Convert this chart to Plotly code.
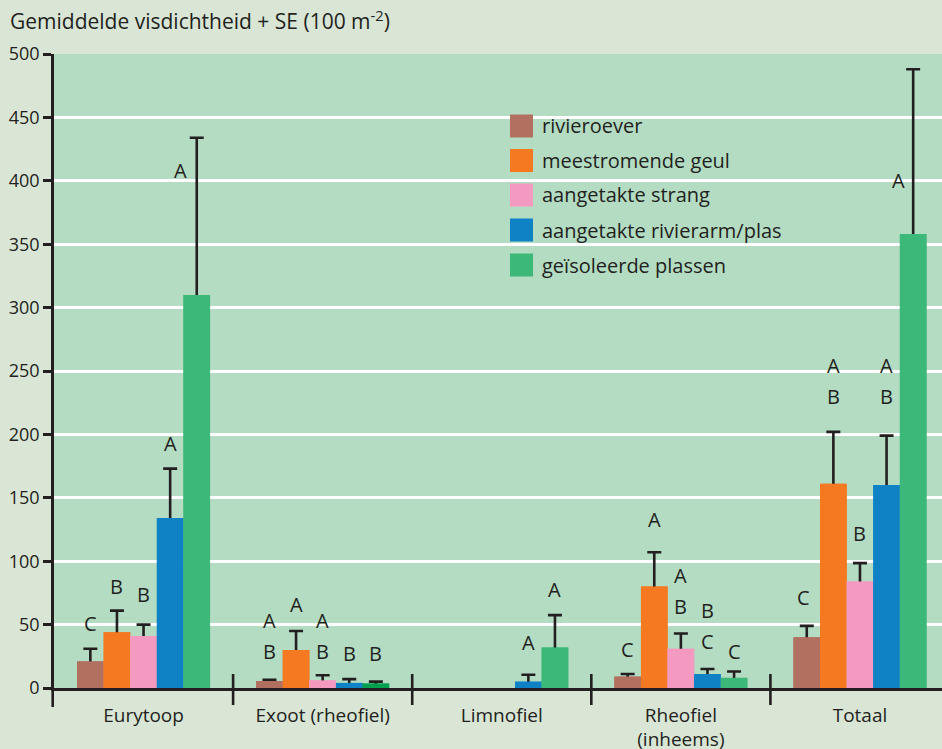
import plotly.graph_objects as go

# ---------------- data ----------------
categories = ["Eurytoop", "Exoot (rheofiel)", "Limnofiel", "Rheofiel<br>(inheems)", "Totaal"]
series_names = ["rivieroever", "meestromende geul", "aangetakte strang",
                "aangetakte rivierarm/plas", "geïsoleerde plassen"]

rivieroever_mean = [21, 5.5, None, 9, 40]
rivieroever_se = [10, 1, None, 2, 9]
meestromende_mean = [44, 30, None, 80, 161]
meestromende_se = [17, 15, None, 27, 41]
strang_mean = [41, 6, None, 31, 84]
strang_se = [9, 4, None, 12, 14.5]
rivierarm_mean = [134, 4, 5, 11, 160]
rivierarm_se = [39, 3, 5.5, 4, 39]
plassen_mean = [310, 3.5, 32, 8, 358]
plassen_se = [124, 1.5, 25.5, 5, 130]

# significance letters (top letter first)
rivieroever_letters = ["C", "AB", "", "C", "C"]
meestromende_letters = ["B", "A", "", "A", "AB"]
strang_letters = ["B", "AB", "", "AB", "B"]
rivierarm_letters = ["A", "B", "A", "BC", "AB"]
plassen_letters = ["A", "B", "A", "C", "A"]

means = [rivieroever_mean, meestromende_mean, strang_mean, rivierarm_mean, plassen_mean]
ses = [rivieroever_se, meestromende_se, strang_se, rivierarm_se, plassen_se]
letters = [rivieroever_letters, meestromende_letters, strang_letters,
           rivierarm_letters, plassen_letters]

# ---------------- styling / placement ----------------
INK = "#231f20"
colors = ["#b27060", "#f47920", "#f49ac1", "#0f82c6", "#3cb878"]
exoot_green = "#00a04e"
FONT = "Open Sans"

# y-value (centre of the lowest letter) for each letter group, per series / category
letter_y = [
    [50.5, 29, None, 30, 71],
    [80, 66, None, 133, 230],
    [74, 29, None, 64, 122],
    [193, 27, 35.5, 37, 230],
    [408.5, 27, 78, 28.4, 400.6],
]
letter_xshift = [
    [0, 0, 0, 0, -3],
    [0, 0, 0, 0, 0],
    [0, 0, 0, 0, 0],
    [0, 0, 0, 0, 0],
    [-16, 0, 0, 0, -15],
]

BARGAP = 0.2574
W = (1 - BARGAP) / 5

fig = go.Figure()
for s in range(5):
    col = [colors[s]] * 5
    if s == 4:
        col[1] = exoot_green
    minus = [1.6 if v is not None else None for v in means[s]]
    # bar carrying the (upper) error bar
    fig.add_trace(go.Bar(
        x=categories, y=means[s], name=series_names[s], offsetgroup=str(s),
        marker=dict(color=col, line=dict(width=0)),
        error_y=dict(type="data", symmetric=False, array=ses[s], arrayminus=minus,
                     color=INK, thickness=2.6, width=7),
        showlegend=False, hoverinfo="skip"))
    # identical bar on top hides the lower cap
    fig.add_trace(go.Bar(
        x=categories, y=means[s], name=series_names[s], offsetgroup=str(s),
        marker=dict(color=col, line=dict(width=0)),
        showlegend=False))

annotations = []
for s in range(5):
    for c in range(5):
        txt = letters[s][c]
        if not txt:
            continue
        for k, ch in enumerate(reversed(txt)):
            annotations.append(dict(
                x=c + (s - 2) * W, y=letter_y[s][c], xref="x", yref="y",
                text=ch, showarrow=False, yanchor="middle", xanchor="center",
                xshift=letter_xshift[s][c], yshift=31 * k,
                font=dict(family=FONT, size=20, color=INK)))

# pixel -> paper helpers (plot area 54..942 x 54..688)
def px(xp):
    return (xp - 54) / 888.0

def py(yp):
    return (688 - yp) / 634.0

shapes = []
# legend
row_y = [126, 160.5, 195, 230, 265]
for s in range(5):
    shapes.append(dict(type="rect", xref="paper", yref="paper",
                       x0=px(510), x1=px(533), y0=py(row_y[s] + 11.5), y1=py(row_y[s] - 11.5),
                       fillcolor=colors[s], line=dict(width=0)))
    annotations.append(dict(x=px(540), y=py(row_y[s]), xref="paper", yref="paper",
                            text=series_names[s], showarrow=False, xanchor="left",
                            yanchor="middle", font=dict(family=FONT, size=20, color=INK)))

# category separators crossing the x axis
for b in [0.5, 1.5, 2.5, 3.5]:
    shapes.append(dict(type="line", xref="x", yref="paper", x0=b, x1=b,
                       ysizemode="pixel", yanchor=0, y0=-17, y1=14,
                       line=dict(color=INK, width=2.6)))
# y axis line extending below zero
shapes.append(dict(type="line", xref="paper", yref="paper",
                   xsizemode="pixel", xanchor=0, x0=-1.3, x1=-1.3,
                   ysizemode="pixel", yanchor=0, y0=-19, y1=0,
                   line=dict(color=INK, width=2.6)))

fig.update_layout(
    width=942, height=749,
    margin=dict(l=54, r=0, t=54, b=61),
    paper_bgcolor="#d9e6d6", plot_bgcolor="#b3dcc3",
    barmode="group", bargap=BARGAP, bargroupgap=0,
    showlegend=False,
    font=dict(family=FONT, size=18, color=INK),
    title=dict(text="Gemiddelde visdichtheid + SE (100 m<sup>-2</sup>)",
               x=10 / 942, xanchor="left", y=1 - 22 / 749, yanchor="middle",
               font=dict(family=FONT, size=21, color=INK), automargin=False),
    annotations=annotations, shapes=shapes,
)
fig.update_xaxes(type="category", range=[-0.5, 4.458], showline=True, linecolor=INK,
                 linewidth=2.6, showgrid=False, ticks="outside", ticklen=8,
                 tickcolor="rgba(0,0,0,0)", tickfont=dict(family=FONT, size=19, color=INK),
                 automargin=False)
fig.update_yaxes(range=[0, 500], tickvals=[0, 50, 100, 150, 200, 250, 300, 350, 400, 450, 500],
                 showgrid=False, zeroline=False, showline=True, linecolor=INK, linewidth=2.6,
                 ticks="outside", ticklen=8, tickwidth=2.6, tickcolor=INK,
                 tickfont=dict(family=FONT, size=18, color=INK), automargin=False,
                 minor=dict(tickvals=[50, 100, 150, 200, 250, 300, 350, 400, 450],
                            showgrid=True, gridcolor="white", gridwidth=2.5, ticks=""))

fig.write_html("out.html", config={"displayModeBar": False},
               post_script="document.body.style.margin='0';document.body.style.overflow='hidden';")
